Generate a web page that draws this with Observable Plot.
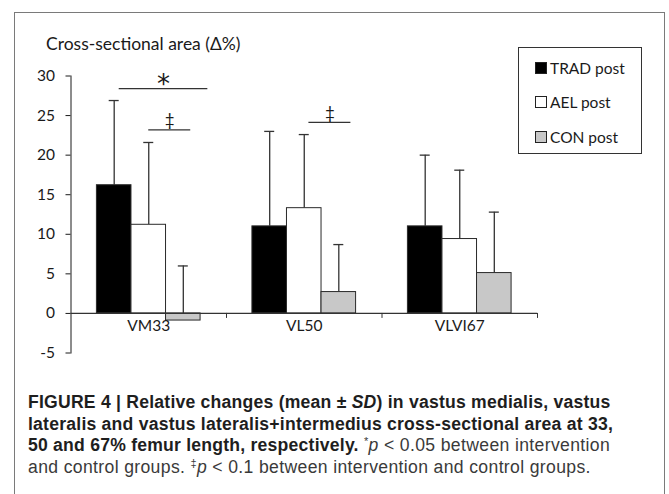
<!DOCTYPE html>
<html>
<head>
<meta charset="utf-8">
<script src="https://cdn.jsdelivr.net/npm/d3@7"></script>
<script src="https://cdn.jsdelivr.net/npm/@observablehq/plot@0.6"></script>
<style>
  html, body { margin: 0; padding: 0; background: #fff; }
  body { width: 669px; height: 494px; position: relative; overflow: hidden; }
  #frame { position: absolute; left: 14px; top: 12px; width: 651px; height: 520px;
           border: 1.5px solid #7a7a7a; border-bottom: none; box-sizing: border-box; }
  #chart { position: absolute; left: 0; top: 0; }
  #title { position: absolute; left: 46px; top: 33px; font-family: Lato, sans-serif;
           font-size: 17.5px; color: #1a1a1a; white-space: nowrap; }
  #legend { position: absolute; left: 518px; top: 47px; width: 124px; height: 107px;
            border: 1.5px solid #333; box-sizing: border-box; font-family: Lato, sans-serif;
            font-size: 15.5px; color: #1a1a1a; }
  .item { position: absolute; left: 16px; display: flex; align-items: center; white-space: nowrap; }
  .sw { width: 10px; height: 10px; border: 1px solid #222; margin-right: 3px; }
  #caption { position: absolute; left: 28px; top: 392px; font-family: "Liberation Sans", Arial, sans-serif;
             font-size: 17.6px; line-height: 21.7px; color: #3a3a3a; letter-spacing: 0.35px; }
  #caption div { white-space: nowrap; }
  #caption b { color: #1e1e1e; letter-spacing: 0.22px; }
  #caption sup { font-size: 11px; vertical-align: 6px; line-height: 0; }
</style>
</head>
<body>
<div id="frame"></div>
<div id="chart"></div>
<div id="title">Cross-sectional area (Δ%)</div>
<div id="legend"></div>
<div id="caption">
  <div><b>FIGURE 4 | Relative changes (mean ± <i>SD</i>) in vastus medialis, vastus</b></div>
  <div><b>lateralis and vastus lateralis+intermedius cross-sectional area at 33,</b></div>
  <div><b>50 and 67% femur length, respectively.</b> <sup>*</sup><i>p</i> &lt; 0.05 between intervention</div>
  <div>and control groups. <sup>‡</sup><i>p</i> &lt; 0.1 between intervention and control groups.</div>
</div>
<script>
// ---- data ----
const categories = ["VM33", "VL50", "VLVI67"];
const groups = ["TRAD post", "AEL post", "CON post"];
const tradMean = [16.2, 11.0, 11.0];
const aelMean  = [11.2, 13.3, 9.4];
const conMean  = [-0.9, 2.7, 5.1];
const tradSD = [10.7, 12.0, 9.0];
const aelSD  = [10.4, 9.3, 8.7];
const conSD  = [6.9, 6.0, 7.7];
const yTicks = [-5, 0, 5, 10, 15, 20, 25, 30];
const groupFill = ["#000000", "#ffffff", "#c8c8c8"];
// significance annotations (x in category units, y in %)
const sigLabel = ["*", "‡", "‡"];
const sigX1 = [0.31, 0.50, 1.53];
const sigX2 = [0.88, 0.77, 1.80];
const sigY  = [28.4, 23.2, 24.15];

const means = [tradMean, aelMean, conMean];
const sds = [tradSD, aelSD, conSD];
const rows = [];
categories.forEach((c, i) => {
  groups.forEach((g, j) => {
    const x1 = i + 1/6 + j * (2/9);
    rows.push({cat: c, group: g, x1, x2: x1 + 2/9, xc: x1 + 1/9,
               mean: means[j][i], top: means[j][i] + sds[j][i], fill: groupFill[j]});
  });
});
const sig = sigLabel.map((l, k) => ({label: l, x1: sigX1[k], x2: sigX2[k], xm: (sigX1[k] + sigX2[k]) / 2, y: sigY[k]}));

const chart = Plot.plot({
  width: 669, height: 395,
  marginLeft: 70.5, marginRight: 132, marginTop: 75.5, marginBottom: 42.5,
  x: {domain: [0, 3], axis: null},
  y: {domain: [-5, 30], ticks: yTicks, tickSize: 5, tickPadding: 11, line: true, label: null,
      tickFormat: d => String(d)},
  style: {fontFamily: "Lato, sans-serif", fontSize: "15.5px", color: "#1a1a1a", background: "transparent", overflow: "visible"},
  marks: [
    Plot.ruleX(rows, {x: "xc", y1: "mean", y2: "top", stroke: "#333", strokeWidth: 1.3}),
    Plot.ruleY(rows, {y: "top", x1: "xc", x2: "xc", insetLeft: -5, insetRight: -5, stroke: "#333", strokeWidth: 1.3}),
    Plot.rectY(rows, {x1: "x1", x2: "x2", y1: 0, y2: "mean", fill: "fill", stroke: "#2a2a2a", strokeWidth: 1}),
    Plot.ruleY([0], {x1: 0, x2: 3, stroke: "#333", strokeWidth: 1.2}),
    Plot.ruleX([1, 2, 3], {y1: 0, y2: 0, insetBottom: -5, stroke: "#333", strokeWidth: 1}),
    Plot.text(categories, {x: (d, i) => i + 0.5, y: 0, dy: 13, text: d => d, fontSize: 15.5, fill: "#1a1a1a"}),
    Plot.ruleY(sig, {y: "y", x1: "x1", x2: "x2", stroke: "#333", strokeWidth: 1.3}),
    Plot.text(sig.filter(d => d.label === "*"), {x: "xm", y: "y", text: "label", dy: -4, fontSize: 26, fontFamily: "DejaVu Sans", fill: "#1a1a1a"}),
    Plot.text(sig.filter(d => d.label !== "*"), {x: "xm", y: "y", text: "label", dy: -9, fontSize: 17, fill: "#1a1a1a"})
  ]
});
document.getElementById("chart").appendChild(chart);

// legend
const legend = document.getElementById("legend");
const itemTop = [11, 45, 80];
groups.forEach((g, j) => {
  const it = document.createElement("div");
  it.className = "item";
  it.style.top = itemTop[j] + "px";
  const sw = document.createElement("span");
  sw.className = "sw";
  sw.style.background = groupFill[j];
  it.appendChild(sw);
  const t = document.createElement("span");
  t.textContent = g;
  it.appendChild(t);
  legend.appendChild(it);
});
</script>
</body>
</html>
